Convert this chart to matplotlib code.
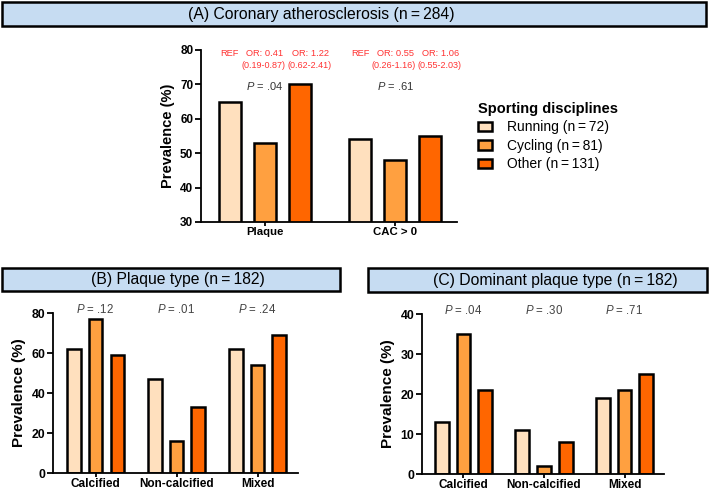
import numpy as np
import matplotlib
matplotlib.use("Agg")
import matplotlib.pyplot as plt
from matplotlib.patches import Rectangle

plt.rcParams['font.family'] = ['Liberation Sans', 'DejaVu Sans']
plt.rcParams['mathtext.fontset'] = 'custom'
plt.rcParams['mathtext.it'] = 'Liberation Sans:italic'
plt.rcParams['mathtext.rm'] = 'Liberation Sans'

# data
disciplines = ['Running (n\u2009=\u200972)', 'Cycling (n\u2009=\u200981)', 'Other (n\u2009=\u2009131)']
colors = ['#FFE0BE', '#FFA040', '#FF6600']

groups_a = ['Plaque', 'CAC > 0']
a_running = [65, 54]
a_cycling = [53, 48]
a_other = [70, 55]
p_a = ['.04', '.61']
or_a = [['REF', 'OR: 0.41', 'OR: 1.22'], ['REF', 'OR: 0.55', 'OR: 1.06']]
ci_a = [['', '(0.19-0.87)', '(0.62-2.41)'], ['', '(0.26-1.16)', '(0.55-2.03)']]

groups_bc = ['Calcified', 'Non-calcified', 'Mixed']
b_running = [62, 47, 62]
b_cycling = [77, 16, 54]
b_other = [59, 33, 69]
p_b = ['.12', '.01', '.24']

c_running = [13, 11, 19]
c_cycling = [35, 2, 21]
c_other = [21, 8, 25]
p_c = ['.04', '.30', '.71']

W, H = 709, 490
fig = plt.figure(figsize=(W / 100, H / 100), dpi=100)


def px_axes(x0, x1, ytop, ybot):
    return fig.add_axes([x0 / W, 1 - ybot / H, (x1 - x0) / W, (ybot - ytop) / H])


def title_box(x0, x1, ytop, ybot, text, tx):
    fig.add_artist(Rectangle((x0 / W, 1 - ybot / H), (x1 - x0) / W, (ybot - ytop) / H,
                             transform=fig.transFigure, facecolor='#C6DCF2',
                             edgecolor='black', linewidth=1.8))
    fig.text(tx / W, 1 - (ytop + ybot) / 2 / H, text, ha='center', va='center', fontsize=11.3)


def grouped_bars(ax, series, groups, ylim, yticks, xlim, fs_tick=8.5, fs_lab=10):
    x = np.arange(len(groups))
    offs = [-0.27, 0, 0.27]
    conts = []
    for vals, off, col, lab in zip(series, offs, colors, disciplines):
        conts.append(ax.bar(x + off, vals, width=0.17, color=col, edgecolor='black',
                            linewidth=1.8, label=lab, zorder=2))
    ax.set_xlim(*xlim)
    ax.set_ylim(*ylim)
    ax.set_yticks(yticks)
    ax.set_xticks(x)
    ax.set_xticklabels(groups, fontweight='bold', fontsize=fs_tick - 0.3)
    for t in ax.get_yticklabels():
        t.set_fontweight('bold')
        t.set_fontsize(fs_tick)
    ax.spines['top'].set_visible(False)
    ax.spines['right'].set_visible(False)
    ax.spines['left'].set_linewidth(1.3)
    ax.spines['bottom'].set_linewidth(1.3)
    ax.tick_params(axis='y', width=1.3, length=4, pad=1.5)
    ax.tick_params(axis='x', width=1.3, length=3, pad=0.5)
    ax.set_ylabel('Prevalence (%)', fontweight='bold', fontsize=fs_lab)
    return conts


# (A)
title_box(2, 706, 2, 26, '(A) Coronary atherosclerosis (n\u2009=\u2009284)', 321)
axA = px_axes(201, 457, 50, 222)
conts = grouped_bars(axA, [a_running, a_cycling, a_other], groups_a,
                     (30, 80), np.arange(30, 81, 10), (-0.49, 1.475), fs_lab=10.5)
for i in range(len(groups_a)):
    axA.text(i, 69.5, r'$P$ = ' + p_a[i], ha='center', va='center', fontsize=8, color='#333333')
    for off, s in zip([-0.27, 0.0, 0.35], or_a[i]):
        axA.text(i + off, 79.1, s, ha='center', va='center', fontsize=6.7, color='#FF3333')
    for off, s in zip([-0.27, -0.01, 0.34], ci_a[i]):
        axA.text(i + off, 75.6, s, ha='center', va='center', fontsize=6.5, color='#FF3333')

fig.legend(handles=conts, labels=disciplines, loc='upper left',
           bbox_to_anchor=(478 / W, 1 - 102 / H), frameon=False, fontsize=10,
           title='Sporting disciplines', title_fontproperties={'weight': 'bold', 'size': 10.5},
           alignment='left', borderpad=0, borderaxespad=0, handlelength=1.0,
           handleheight=0.65, handletextpad=1.1, labelspacing=0.32)

# (B)
title_box(2, 340, 268, 291, '(B) Plaque type (n\u2009=\u2009182)', 178)
axB = px_axes(53, 298, 313, 473)
grouped_bars(axB, [b_running, b_cycling, b_other], groups_bc,
             (0, 80), np.arange(0, 81, 20), (-0.525, 2.5), fs_tick=8.8, fs_lab=11)
for i in range(len(groups_bc)):
    axB.text(i, 82, r'$P$ = ' + p_b[i], ha='center', va='center', fontsize=8.3, color='#444444')

# (C)
title_box(368, 707, 268, 292, '(C) Dominant plaque type (n\u2009=\u2009182)', 555)
axC = px_axes(422, 664, 314, 474)
grouped_bars(axC, [c_running, c_cycling, c_other], groups_bc,
             (0, 40), np.arange(0, 41, 10), (-0.515, 2.49), fs_tick=8.8, fs_lab=11)
for i in range(len(groups_bc)):
    axC.text(i, 41, r'$P$ = ' + p_c[i], ha='center', va='center', fontsize=8.3, color='#444444')

fig.savefig('out.png', dpi=100)
